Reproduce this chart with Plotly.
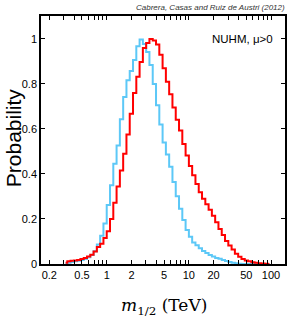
import plotly.graph_objects as go

# bin centres (TeV), log-spaced bins of 0.04 decades
bin_centers = [0.316, 0.347, 0.380, 0.417, 0.457, 0.501, 0.550, 0.603, 0.661, 0.724,
               0.794, 0.871, 0.955, 1.047, 1.148, 1.259, 1.380, 1.514, 1.660, 1.820,
               1.995, 2.188, 2.399, 2.630, 2.884, 3.162, 3.467, 3.802, 4.169, 4.571,
               5.012, 5.495, 6.026, 6.607, 7.244, 7.943, 8.710, 9.550, 10.47, 11.48,
               12.59, 13.80, 15.14, 16.60, 18.20, 19.95, 21.88, 23.99, 26.30, 28.84,
               31.62, 34.67, 38.02, 41.69, 45.71, 50.12, 54.95, 60.26, 66.07, 72.44,
               79.43, 87.10, 95.50]

prob_blue = [0.002, 0.006, 0.009, 0.012, 0.014, 0.018, 0.022, 0.030, 0.040, 0.057,
             0.087, 0.126, 0.180, 0.262, 0.350, 0.445, 0.527, 0.643, 0.742, 0.816,
             0.858, 0.906, 0.968, 0.998, 0.978, 0.942, 0.884, 0.800, 0.705, 0.620,
             0.540, 0.487, 0.432, 0.364, 0.301, 0.245, 0.195, 0.151, 0.121, 0.095,
             0.083, 0.070, 0.058, 0.049, 0.040, 0.033, 0.027, 0.023, 0.018, 0.013,
             0.009, 0.006, 0.003, 0.001, 0.0, 0.0, 0.0, 0.0, 0.0, 0.0,
             0.0, 0.0, 0.0]

prob_red = [0.006, 0.012, 0.014, 0.016, 0.018, 0.022, 0.027, 0.033, 0.041, 0.055,
            0.075, 0.090, 0.115, 0.145, 0.200, 0.272, 0.344, 0.416, 0.490, 0.575,
            0.668, 0.760, 0.832, 0.898, 0.960, 0.982, 1.000, 0.993, 0.975, 0.930,
            0.870, 0.810, 0.754, 0.695, 0.641, 0.593, 0.533, 0.482, 0.436, 0.394,
            0.355, 0.319, 0.290, 0.266, 0.241, 0.214, 0.185, 0.156, 0.129, 0.102,
            0.082, 0.064, 0.046, 0.032, 0.022, 0.016, 0.012, 0.008, 0.005, 0.003,
            0.002, 0.001, 0.0]

major_ticks = [0.2, 0.5, 1, 2, 5, 10, 20, 50, 100]
major_labels = ["0.2", "0.5", "1", "2", "5", "10", "20", "50", "100"]
minor_ticks = [0.2, 0.3, 0.4, 0.5, 0.6, 0.7, 0.8, 0.9, 1, 2, 3, 4, 5, 6, 7, 8, 9,
               10, 20, 30, 40, 50, 60, 70, 80, 90, 100]
y_ticks = [0, 0.2, 0.4, 0.6, 0.8, 1]
y_labels = ["0", "0.2", "0.4", "0.6", "0.8", "1"]

fig = go.Figure()
fig.add_trace(go.Scatter(x=bin_centers, y=prob_blue, mode="lines",
                         line=dict(color="#5cc8f7", width=2, shape="hvh"),
                         showlegend=False, hoverinfo="skip"))
fig.add_trace(go.Scatter(x=bin_centers, y=prob_red, mode="lines",
                         line=dict(color="#ff0000", width=2, shape="hvh"),
                         showlegend=False, hoverinfo="skip"))

font_sans = "Liberation Sans, Arial, sans-serif"

fig.update_layout(
    width=291, height=319, autosize=False,
    margin=dict(l=41, r=4, t=16, b=55, pad=0),
    paper_bgcolor="white", plot_bgcolor="white",
    font=dict(family=font_sans, size=11, color="black"),
    xaxis=dict(type="log", range=[-0.80, 2.17], showgrid=False, zeroline=False,
               showline=True, linecolor="black", linewidth=1.5, mirror="allticks",
               ticks="inside", ticklen=4, tickwidth=1, tickcolor="black",
               tickmode="array", tickvals=major_ticks, ticktext=major_labels,
               tickfont=dict(size=11, family=font_sans),
               minor=dict(ticks="inside", ticklen=4, tickwidth=1, tickcolor="black",
                          tickmode="array", tickvals=minor_ticks, showgrid=False)),
    yaxis=dict(range=[0, 1.102], showgrid=False, zeroline=False,
               showline=True, linecolor="black", linewidth=1.5, mirror="allticks",
               ticks="inside", ticklen=4, tickwidth=1, tickcolor="black",
               tickmode="array", tickvals=y_ticks, ticktext=y_labels,
               tickfont=dict(size=11, family=font_sans)),
)

fig.add_annotation(text="<i>Cabrera, Casas and Ruiz de Austri (2012)</i>",
                   xref="paper", yref="paper", x=1.008, y=1.035,
                   xanchor="right", yanchor="middle", showarrow=False,
                   font=dict(size=8, color="#333333", family=font_sans))
fig.add_annotation(text="NUHM, μ>0", xref="paper", yref="paper",
                   x=0.959, y=0.907, xanchor="right", yanchor="middle",
                   showarrow=False, font=dict(size=11.5, color="black", family=font_sans))
fig.add_annotation(text="Probability", xref="paper", yref="paper",
                   x=-0.115, y=0.511, xanchor="center", yanchor="middle",
                   textangle=-90, showarrow=False,
                   font=dict(size=21, color="black", family=font_sans))
fig.add_annotation(text="<i>m</i><sub>1/2</sub> (TeV)", xref="paper", yref="paper",
                   x=0.504, y=-0.173, xanchor="center", yanchor="middle",
                   showarrow=False,
                   font=dict(size=17, color="black", family="DejaVu Serif, Liberation Serif, serif"))

fig.write_html("out.html",
               config={"displayModeBar": False, "responsive": False},
               post_script="document.body.style.margin='0';document.body.style.overflow='hidden';")
